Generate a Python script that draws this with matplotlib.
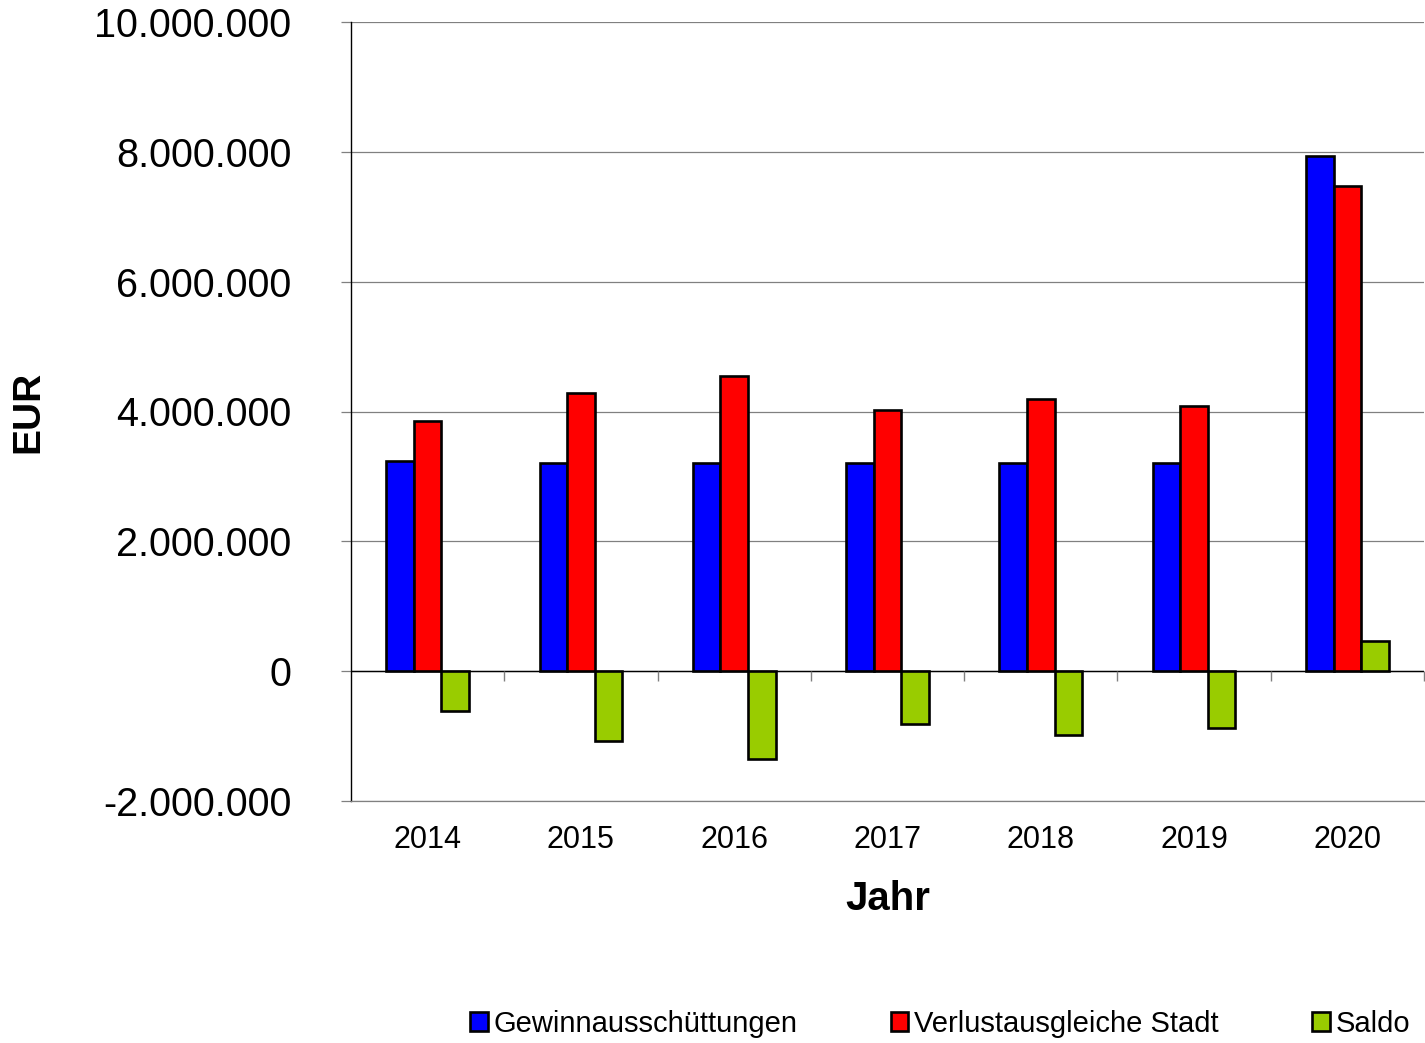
import matplotlib
matplotlib.use("Agg")
import matplotlib.pyplot as plt
from matplotlib.ticker import FuncFormatter, MultipleLocator
from matplotlib.patches import Patch
import numpy as np

plt.rcParams['font.family'] = ['Liberation Sans', 'DejaVu Sans']

years = ["2014", "2015", "2016", "2017", "2018", "2019", "2020"]
gewinn = [3240000, 3200000, 3200000, 3200000, 3200000, 3200000, 7940000]
verlust = [3860000, 4280000, 4550000, 4020000, 4190000, 4080000, 7470000]
saldo = [-620000, -1080000, -1350000, -820000, -990000, -880000, 470000]

series = [("Gewinnausschüttungen", gewinn, "#0000FF"),
          ("Verlustausgleiche Stadt", verlust, "#FF0000"),
          ("Saldo", saldo, "#99CC00")]

W, H = 1425, 1043
fig = plt.figure(figsize=(W / 100, H / 100), dpi=100)
ax = fig.add_axes([351 / W, (H - 801) / H, (1424 - 351) / W, (801 - 22) / H])

x = np.arange(len(years))
bw = 0.18
for k, (name, vals, col) in enumerate(series):
    ax.bar(x + (k - 1) * bw, vals, width=bw, color=col, edgecolor="black",
           linewidth=1.9, zorder=3, label=name)

ax.set_xlim(-0.5, len(years) - 0.5)
ax.set_ylim(-2000000, 10000000)
ax.yaxis.set_major_locator(MultipleLocator(2000000))
ax.yaxis.set_major_formatter(FuncFormatter(lambda v, p: f"{int(round(v)):,}".replace(",", ".")))

ax.grid(axis="y", color="#808080", linewidth=0.9, zorder=0)
ax.set_axisbelow(True)

for s in ["top", "right"]:
    ax.spines[s].set_visible(False)
ax.spines["bottom"].set_color("#808080")
ax.spines["bottom"].set_linewidth(0.9)
ax.spines["left"].set_color("black")
ax.spines["left"].set_linewidth(1.0)

# zero line with category-boundary ticks
ax.axhline(0, color="black", linewidth=1.0, zorder=2)
bounds = np.arange(len(years) + 1) - 0.5
ax.plot(bounds[1:], np.zeros(len(bounds) - 1), linestyle="none", marker=3,
        markersize=7, markeredgecolor="#808080", markeredgewidth=1.0, zorder=2,
        clip_on=False)

ax.set_xticks(x)
ax.set_xticklabels(years, fontsize=22)
ax.tick_params(axis="x", length=0, pad=17)
ax.tick_params(axis="y", length=7, width=0.9, color="#808080", pad=36, labelsize=28.5)

ax.set_xlabel("Jahr", fontsize=29, fontweight="bold", labelpad=18)
ax.set_ylabel("EUR", fontsize=28, fontweight="bold", va="center")
ax.yaxis.set_label_coords((28 - 351) / (1424 - 351), 0.5)

handles = [Patch(facecolor=c, edgecolor="black", linewidth=1.9, label=n) for n, _, c in series]
fig.legend(handles=handles, loc="center", bbox_to_anchor=(940 / W, (H - 1024) / H),
           ncol=3, frameon=False, fontsize=21, handlelength=0.6, handleheight=0.6,
           handletextpad=0.2, columnspacing=3.2, borderpad=0)

fig.savefig("out.png", dpi=100)
